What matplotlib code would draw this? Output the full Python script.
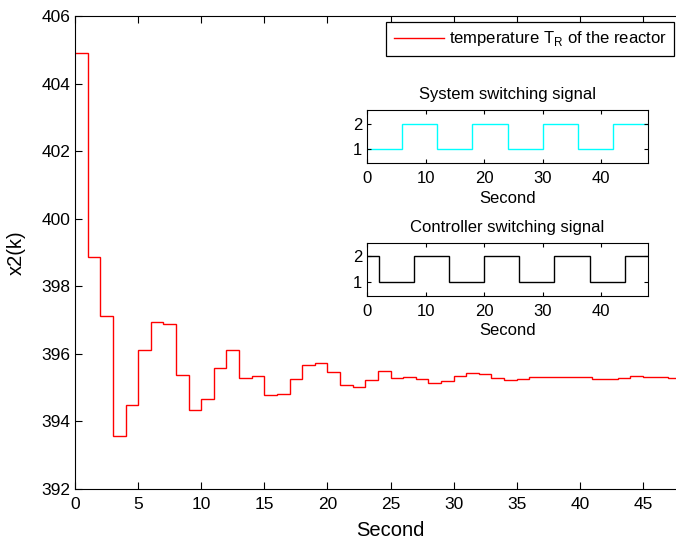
import numpy as np
import matplotlib
matplotlib.use("Agg")
import matplotlib.pyplot as plt

plt.rcParams['font.family'] = ['Liberation Sans', 'DejaVu Sans']

# reactor temperature x2(k), one value per second
x2 = [404.9, 398.88, 397.12, 393.56, 394.5, 396.12, 396.94, 396.88, 395.37, 394.34,
      394.66, 395.57, 396.12, 395.3, 395.34, 394.79, 394.8, 395.26, 395.66, 395.73,
      395.47, 395.08, 395.01, 395.23, 395.48, 395.29, 395.31, 395.25, 395.14, 395.21,
      395.34, 395.43, 395.39, 395.29, 395.23, 395.25, 395.31, 395.31, 395.31, 395.31,
      395.31, 395.26, 395.26, 395.29, 395.34, 395.33, 395.31, 395.29]
t_edges = np.arange(len(x2) + 1)

# switching signals
sys_sig = [1, 2, 1, 2, 1, 2, 1, 2]
sys_edges = [0, 6, 12, 18, 24, 30, 36, 42, 48]
ctrl_sig = [2, 1, 2, 1, 2, 1, 2, 1, 2]
ctrl_edges = [0, 2, 8, 14, 20, 26, 32, 38, 44, 48]

fig = plt.figure(figsize=(6.76, 5.41), dpi=100)
# main axes runs a bit past the right edge of the figure (x up to 50)
ax = fig.add_axes([0.111, 0.0961, 0.9334, 0.8743])
ax.stairs(x2, t_edges, baseline=None, color='red', lw=1.0,
          label='temperature T$_\\mathregular{R}$ of the reactor')
ax.set_xlim(0, 50)
ax.set_ylim(392, 406)
ax.set_xticks(np.arange(0, 46, 5))
ax.set_yticks(np.arange(392, 407, 2))
ax.tick_params(direction='in', top=True, right=True, labelsize=12.5, length=5)
ax.tick_params(axis='x', pad=6)
ax.set_xlabel('Second', fontsize=14.5, labelpad=6)
ax.set_ylabel('x2(k)', fontsize=14.5)
ax.yaxis.set_label_coords(-0.078, 0.5)
leg = ax.legend(loc='upper right', bbox_to_anchor=(674 / 676, 1 - 22 / 541),
                bbox_transform=fig.transFigure, fontsize=12,
                fancybox=False, framealpha=1, edgecolor='black', handlelength=3.0,
                handletextpad=0.3, borderaxespad=0, borderpad=0.45)
leg.get_frame().set_linewidth(0.9)

# inset 1: system switching signal
ax1 = fig.add_axes([0.543, 0.6987, 0.4157, 0.098])
ax1.stairs(sys_sig, sys_edges, baseline=None, color='cyan', lw=1.0)
ax1.set_title('System switching signal', fontsize=12, pad=8)

# inset 2: controller switching signal
ax2 = fig.add_axes([0.543, 0.4534, 0.4157, 0.098])
ax2.stairs(ctrl_sig, ctrl_edges, baseline=None, color='black', lw=1.0)
ax2.set_title('Controller switching signal', fontsize=12, pad=8)

for a in (ax1, ax2):
    a.set_xlim(0, 48)
    a.set_ylim(0.46, 2.54)
    a.set_xticks([0, 10, 20, 30, 40])
    a.set_yticks([1, 2])
    a.tick_params(direction='in', top=True, right=True, labelsize=12, length=3)
    a.tick_params(axis='x', pad=6)
    a.set_xlabel('Second', fontsize=12, labelpad=3)

fig.savefig('out.png', dpi=100)
